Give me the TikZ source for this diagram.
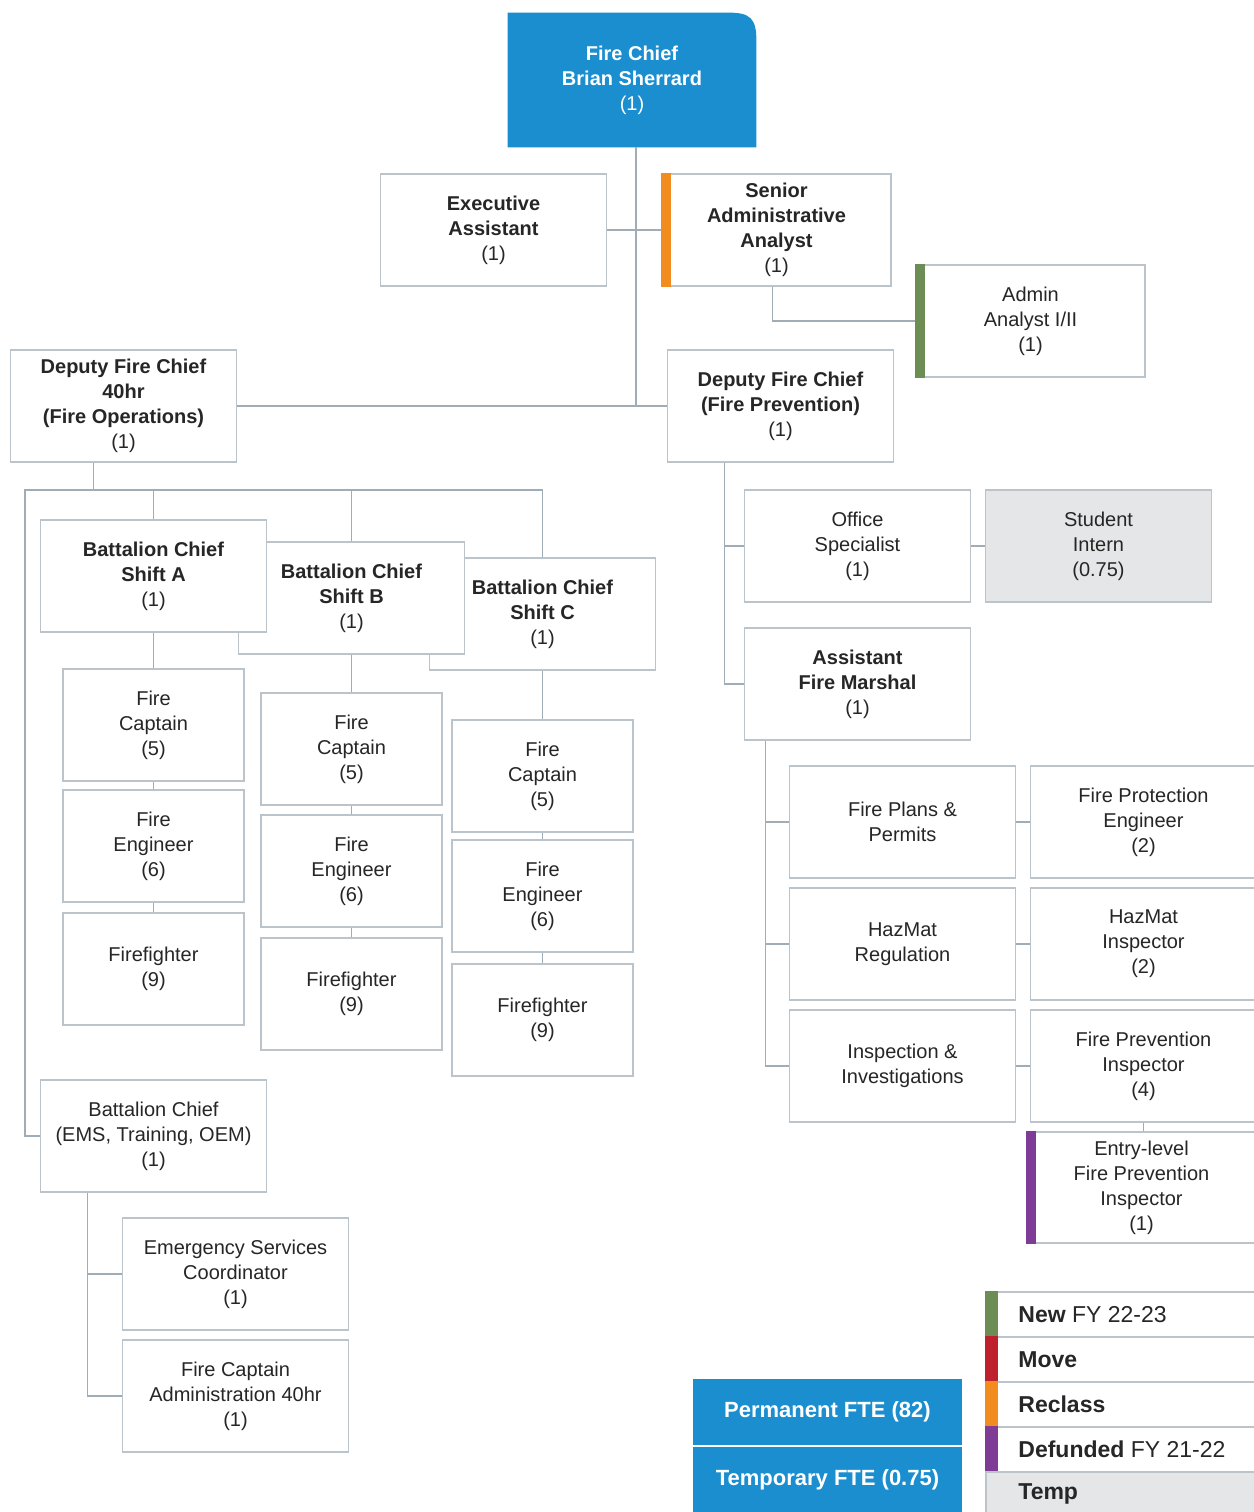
\documentclass[tikz,border=0pt]{standalone}
\usepackage{fontspec}
\setmainfont{Liberation Sans}
\usetikzlibrary{backgrounds}
\definecolor{fpblue}{RGB}{26,142,207}
\definecolor{boxgray}{RGB}{188,196,203}
\definecolor{linegray}{RGB}{160,172,182}
\definecolor{txtgray}{RGB}{38,38,38}
\definecolor{tempgray}{RGB}{229,230,231}
\definecolor{fpgreen}{RGB}{108,142,84}
\definecolor{fpred}{RGB}{190,32,45}
\definecolor{fporange}{RGB}{242,140,30}
\definecolor{fppurple}{RGB}{126,60,150}
\begin{document}
\begin{tikzpicture}[x=0.5pt,y=-0.5pt,
	every node/.style={font=\fontsize{10}{12.5}\selectfont,text=txtgray},
	box/.style={draw=boxgray,line width=0.9pt,fill=white,align=center,inner sep=0pt,minimum width=113pt,minimum height=56pt},
	crew/.style={box,minimum width=90.5pt},
	link/.style={draw=linegray,line width=0.75pt},
	legrow/.style={draw=boxgray,line width=0.8pt,fill=white,anchor=north west,minimum width=134.5pt,minimum height=22.5pt,inner sep=0pt},
	legtext/.style={anchor=west,inner sep=0pt,font=\fontsize{11.5}{13}\selectfont},
	fte/.style={fill=fpblue,draw=white,line width=0.8pt,text=white,font=\fontsize{11}{13}\selectfont\bfseries,minimum width=135.5pt,minimum height=34pt}]
	\useasboundingbox (0,0) rectangle (1254,1512);
	% Fire Chief
	\node[align=center,inner sep=0pt,minimum width=124pt,minimum height=67pt,text=white] (chief) at (632,80) {\textbf{Fire Chief}\\\textbf{Brian Sherrard}\\(1)};
	\begin{scope}[on background layer]
		\fill[white] (0,0) rectangle (1254,1512);
		\fill[fpblue] (chief.south west) -- (chief.north west) -- ([xshift=-14pt]chief.north east) .. controls ([xshift=-3pt]chief.north east) and ([yshift=-3pt]chief.north east) .. ([yshift=-14pt]chief.north east) -- (chief.south east) -- cycle;
	\end{scope}
	\node[box] (exec) at (493.5,230) {\textbf{Executive}\\\textbf{Assistant}\\(1)};
	\node[box,minimum width=114.5pt] (sraa) at (776.5,230) {\textbf{Senior}\\\textbf{Administrative}\\\textbf{Analyst}\\(1)};
	\node[box,minimum width=114.5pt] (admin) at (1030.5,321) {Admin\\Analyst I/II\\(1)};
	\node[box] (dops) at (123.5,406) {\textbf{Deputy Fire Chief}\\\textbf{40hr}\\\textbf{(Fire Operations)}\\(1)};
	\node[box] (dprev) at (780.5,406) {\textbf{Deputy Fire Chief}\\\textbf{(Fire Prevention)}\\(1)};
	% Fire Operations
	\node[box] (bcc) at (542.5,614) {\textbf{Battalion Chief}\\\textbf{Shift C}\\(1)};
	\node[box] (bcb) at (351.5,598) {\textbf{Battalion Chief}\\\textbf{Shift B}\\(1)};
	\node[box] (bca) at (153.5,576) {\textbf{Battalion Chief}\\\textbf{Shift A}\\(1)};
	\node[crew] (capa) at (153.5,725) {Fire\\Captain\\(5)};
	\node[crew] (enga) at (153.5,846) {Fire\\Engineer\\(6)};
	\node[crew] (ffa) at (153.5,969) {Firefighter\\(9)};
	\node[crew] (capb) at (351.5,749) {Fire\\Captain\\(5)};
	\node[crew] (engb) at (351.5,871) {Fire\\Engineer\\(6)};
	\node[crew] (ffb) at (351.5,994) {Firefighter\\(9)};
	\node[crew] (capc) at (542.5,776) {Fire\\Captain\\(5)};
	\node[crew] (engc) at (542.5,896) {Fire\\Engineer\\(6)};
	\node[crew] (ffc) at (542.5,1020) {Firefighter\\(9)};
	\node[box] (bcems) at (153.5,1136) {Battalion Chief\\(EMS, Training, OEM)\\(1)};
	\node[box] (esc) at (235.5,1274) {Emergency Services\\Coordinator\\(1)};
	\node[box] (fca) at (235.5,1396) {Fire Captain\\Administration 40hr\\(1)};
	% Fire Prevention
	\node[box] (offs) at (857.5,546) {Office\\Specialist\\(1)};
	\node[box,fill=tempgray] (intern) at (1098.5,546) {Student\\Intern\\(0.75)};
	\node[box] (afm) at (857.5,684) {\textbf{Assistant}\\\textbf{Fire Marshal}\\(1)};
	\node[box] (fpp) at (902.5,822) {Fire Plans \&\\Permits};
	\node[box] (fpe) at (1143.5,822) {Fire Protection\\Engineer\\(2)};
	\node[box] (hzr) at (902.5,944) {HazMat\\Regulation};
	\node[box] (hzi) at (1143.5,944) {HazMat\\Inspector\\(2)};
	\node[box] (insp) at (902.5,1066) {Inspection \&\\Investigations};
	\node[box] (fpi) at (1143.5,1066) {Fire Prevention\\Inspector\\(4)};
	\node[box,minimum width=114.5pt,minimum height=55.5pt] (entry) at (1141.5,1187.5) {Entry-level\\Fire Prevention\\Inspector\\(1)};
	% colour bars
	\fill[fporange] (sraa.north west) rectangle ([xshift=5pt]sraa.south west);
	\fill[fpgreen] (admin.north west) rectangle ([xshift=5pt]admin.south west);
	\fill[fppurple] (entry.north west) rectangle ([xshift=5pt]entry.south west);
	% connectors
	\draw[link] ([xshift=2pt]chief.south) -- ([xshift=2pt]chief.south |- dops.east);
	\draw[link] (dops.east) -- (dprev.west);
	\draw[link] (exec.east) -- (sraa.west);
	\draw[link] ([xshift=-2pt]sraa.south) |- (admin.west);
	\coordinate (opsbus) at (25,490);
	\draw[link] ([xshift=-15pt]dops.south) -- ([xshift=-15pt]dops.south |- opsbus);
	\draw[link] (bcc.north |- opsbus) -- (opsbus) |- (bcems.west);
	\foreach \n in {bca,bcb,bcc}
		\draw[link] (\n.north) -- (\n.north |- opsbus);
	\foreach \c in {a,b,c}
		\draw[link] (bc\c.south) -- (cap\c.north) (cap\c.south) -- (eng\c.north) (eng\c.south) -- (ff\c.north);
	\draw[link] ([xshift=-33pt]bcems.south) |- (esc.west) ([xshift=-33pt]bcems.south) |- (fca.west);
	\draw[link] ([xshift=-28pt]dprev.south) |- (offs.west) ([xshift=-28pt]dprev.south) |- (afm.west);
	\draw[link] (offs.east) -- (intern.west);
	\draw[link] ([xshift=-46pt]afm.south) |- (fpp.west) ([xshift=-46pt]afm.south) |- (hzr.west) ([xshift=-46pt]afm.south) |- (insp.west);
	\draw[link] (fpp.east) -- (fpe.west) (hzr.east) -- (hzi.west) (insp.east) -- (fpi.west);
	\draw[link] (fpi.south) -- (fpi.south |- entry.north);
	% FTE totals
	\node[fte] (perm) at (827.5,1412) {Permanent FTE (82)};
	\node[fte] (temp) at (827.5,1480) {Temporary FTE (0.75)};
	% legend
	\foreach \col/\txt [count=\i] in {fpgreen/{\textbf{New} FY 22-23},fpred/{\textbf{Move}},fporange/{\textbf{Reclass}},fppurple/{\textbf{Defunded} FY 21-22}}{
		\node[legrow] (leg\i) at (985,{1291+45*(\i-1)}) {};
		\fill[\col] (leg\i.north west) rectangle ([xshift=6.5pt]leg\i.south west);
		\node[legtext] at ([xshift=16.5pt]leg\i.west) {\txt};
	}
	\node[legrow,fill=tempgray] (leg5) at (985,1471) {};
	\node[legtext] at ([xshift=16.5pt]leg5.west) {\textbf{Temp}};
\end{tikzpicture}
\end{document}
